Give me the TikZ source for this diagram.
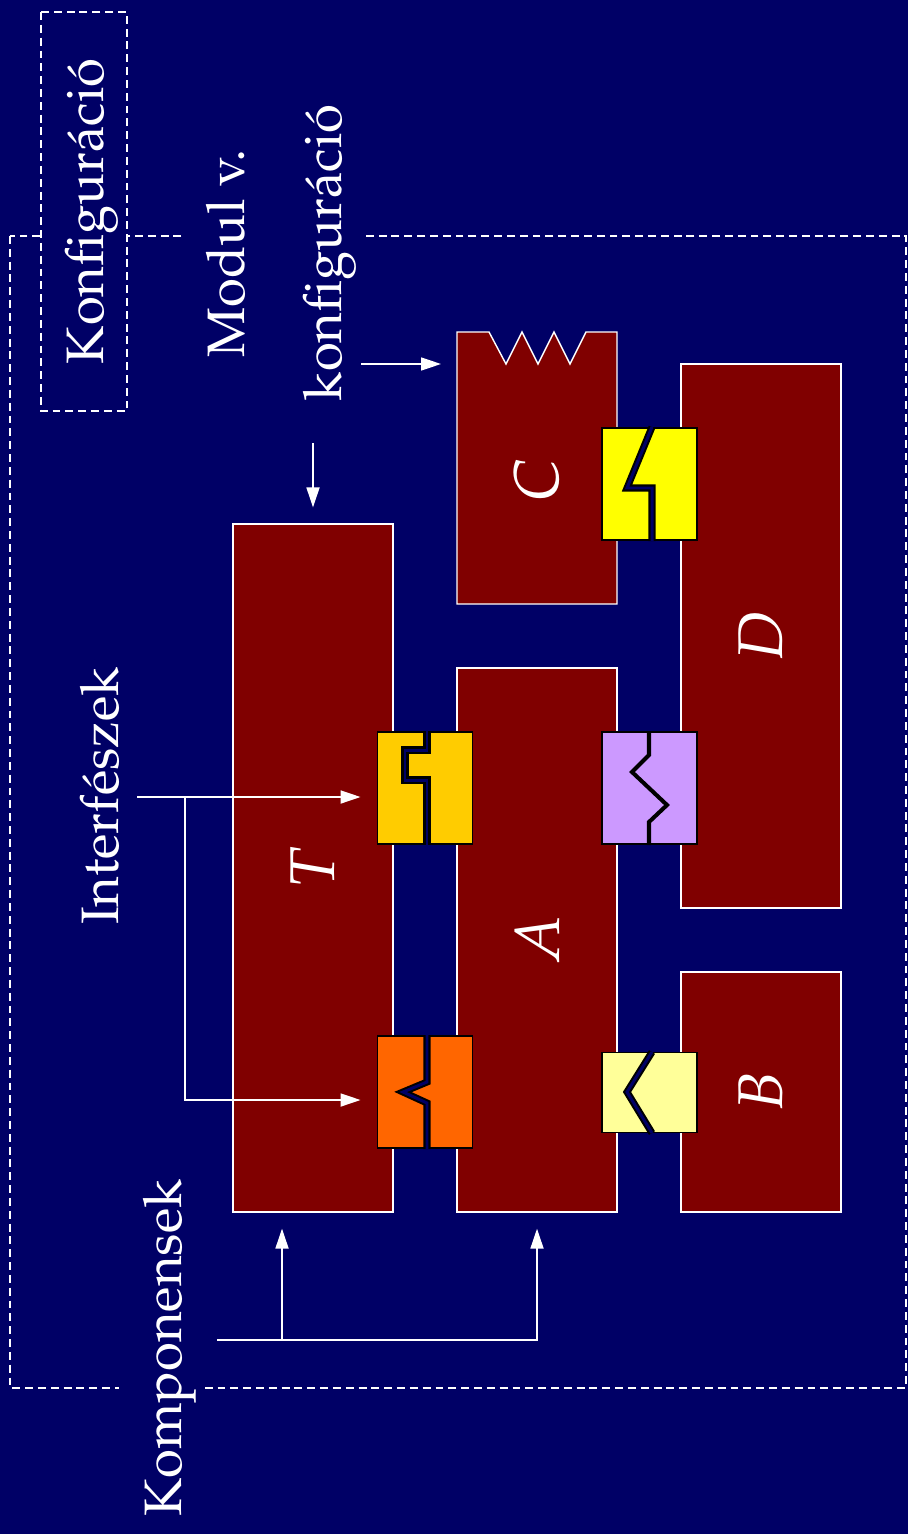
\documentclass[tikz,border=0pt]{standalone}
\usepackage[T1]{fontenc}
\usepackage{mathpazo}
\usetikzlibrary{arrows.meta, calc}

\definecolor{bgnavy}{HTML}{000066}
\definecolor{blkred}{HTML}{800000}
\definecolor{ifyellow}{HTML}{FFFF00}
\definecolor{ifpurple}{HTML}{CC99FF}
\definecolor{iflight}{HTML}{FFFF99}
\definecolor{ifgold}{HTML}{FFCC00}
\definecolor{iforange}{HTML}{FF6600}

\begin{document}
\begin{tikzpicture}[
    x=0.02cm, y=-0.02cm,
    >={Triangle[length=0.4cm, width=0.26cm]},
    blk/.style={draw=white, fill=blkred, line width=0.8pt, inner sep=0pt,
                minimum width=3.2cm, text=white,
                font=\fontsize{36}{40}\selectfont},
    lbl/.style={text=white, font=\fontsize{36}{40}\selectfont},
    ifc/.style={draw=black, line width=1.1pt, inner sep=0pt,
                minimum width=1.9cm, minimum height=2.24cm},
    cut/.style={draw=black, line width=1.15pt, double=bgnavy,
                double distance=1.7pt},
    seam/.style={draw=black, line width=2.3pt},
    frame/.style={draw=white, line width=0.8pt,
                  dash pattern=on 4.5pt off 2.8pt},
    txt/.style={rotate=90, text=white, text depth=0pt,
                font=\fontsize{30}{55}\selectfont},
    wire/.style={draw=white, line width=1pt, ->, shorten >=0.32cm}
  ]
  \useasboundingbox (0,0) rectangle (908,1534);
  \fill[bgnavy] (0,0) rectangle (908,1534);

  % Configuration frame
  \draw[frame] (10,236) rectangle (906,1388);

  % Labels
  \node[txt, frame, fill=bgnavy, minimum width=7.98cm,
        minimum height=1.72cm] (konf) at (84,211.5) {Konfigur\'aci\'o};
  \node[txt, fill=bgnavy, align=center, inner ysep=0.48cm]
        (modul) at (274,253) {Modul v.\\konfigur\'aci\'o};
  \node[txt] (intf) at (99,796) {Interf\'eszek};
  \node[txt, fill=bgnavy, inner ysep=0.48cm] (komp) at (162,1348) {Komponensek};

  % Components
  \node[blk, minimum height=13.76cm] (T) at (313,868) {\rotatebox{90}{$T$}};
  \node[blk, minimum height=10.88cm] (A) at (537,940) {\rotatebox{90}{$A$}};
  \node[blk, minimum height=10.88cm] (D) at (761,636) {\rotatebox{90}{$D$}};
  \node[blk, minimum height=4.8cm] (B) at (761,1092) {\rotatebox{90}{$B$}};
  \coordinate (Cnw) at (457,332);
  \draw[white, fill=blkred, line width=0.8pt] (Cnw) -- (489,332) -- (506,364)
    -- (522,332) -- (538,364) -- (554,332) -- (570,364) -- (586,332)
    -- (617,332) -- (617,604) -- (457,604) -- cycle;
  \node[lbl] (C) at (537,480) {\rotatebox{90}{$C$}};

  % Interfaces
  \node[ifc, fill=ifyellow] (iCD) at (649.5,484) {};
  \draw[cut] (652,427) -- (627,488) -- (652,488) -- (652,541);
  \node[ifc, fill=ifpurple] (iAD) at (649.5,788) {};
  \draw[seam] (649,731) -- (649,755) -- (632,772) -- (667,805)
    -- (649,822) -- (649,845);
  \node[ifc, fill=iflight, minimum height=1.6cm] (iAB) at (649.5,1092.5) {};
  \draw[cut] (652,1052) -- (627,1092) -- (652,1133);
  \node[ifc, fill=ifgold] (iTA) at (425,788) {};
  \draw[cut] (427,731) -- (427,750) -- (405,750) -- (405,780)
    -- (427,780) -- (427,845);
  \node[ifc, fill=iforange] (iTB) at (425,1092) {};
  \draw[cut] (427,1035) -- (427,1082) -- (403,1092) -- (427,1103)
    -- (427,1149);

  % Arrows
  \coordinate (kin) at (217,1340);
  \coordinate (kbr) at (282,1340);
  \draw[wire] (kin) -| (A.south);
  \draw[wire] (kbr) -- (kbr |- T.south);
  \coordinate (iin) at (137,797);
  \coordinate (ibr) at (185,797);
  \coordinate (ibr2) at (185,1100);
  \draw[wire] (iin) -- (iin -| iTA.west);
  \draw[wire] (ibr) -- (ibr2) -- (ibr2 -| iTB.west);
  \coordinate (min) at (313,443);
  \coordinate (mout) at (361,364);
  \draw[wire] (min) -- (min |- T.north);
  \draw[wire] (mout) -- (mout -| Cnw);
\end{tikzpicture}
\end{document}
